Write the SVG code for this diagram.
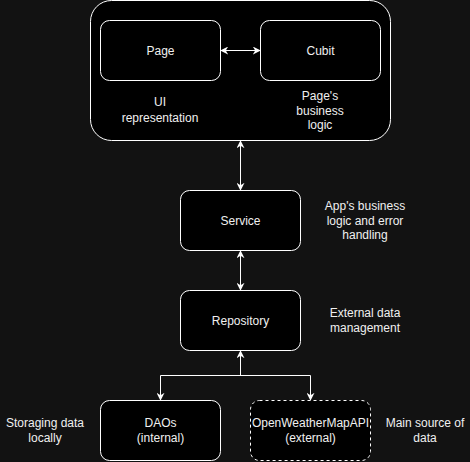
<svg xmlns="http://www.w3.org/2000/svg" width="470" height="462" viewBox="0 0 470 462">
<defs>
<style>
.box{fill:#000;stroke:#fff;stroke-width:1}
.dash{stroke-dasharray:3 3}
.t{font-family:"Liberation Sans",Arial,sans-serif;font-size:12px;fill:#f0f0f0;text-anchor:middle}
.c{fill:none;stroke:#fff;stroke-width:1}
</style>
<marker id="ah" viewBox="0 0 10 10" refX="9" refY="5" markerWidth="8" markerHeight="8" markerUnits="userSpaceOnUse" orient="auto-start-reverse">
<path d="M0,0 L10,5 L0,10 L3,5 Z" fill="#fff"/>
</marker>
</defs>
<rect width="470" height="462" fill="#121212"/>
<g id="container">
<rect class="box" x="90.5" y="0.5" width="300" height="140" rx="21"/>
</g>
<g id="page">
<rect class="box" x="100.5" y="20.5" width="120" height="60" rx="9"/>
<text class="t" x="160.5" y="54.5">Page</text>
</g>
<g id="cubit">
<rect class="box" x="260.5" y="20.5" width="120" height="60" rx="9"/>
<text class="t" x="320.5" y="54.5">Cubit</text>
</g>
<g id="ui-label">
<text class="t" x="160" y="106">UI</text>
<text class="t" x="160" y="122">representation</text>
</g>
<g id="cubit-label">
<text class="t" x="320" y="100">Page's</text>
<text class="t" x="320" y="114.5">business</text>
<text class="t" x="320" y="129">logic</text>
</g>
<g id="service">
<rect class="box" x="180.5" y="190.5" width="120" height="60" rx="9"/>
<text class="t" x="240.5" y="224.5">Service</text>
</g>
<g id="service-label">
<text class="t" x="365" y="210">App's business</text>
<text class="t" x="365" y="224.5">logic and error</text>
<text class="t" x="365" y="239">handling</text>
</g>
<g id="repository">
<rect class="box" x="180.5" y="290.5" width="120" height="60" rx="9"/>
<text class="t" x="240.5" y="324.5">Repository</text>
</g>
<g id="repository-label">
<text class="t" x="365" y="317">External data</text>
<text class="t" x="365" y="332">management</text>
</g>
<g id="daos">
<rect class="box" x="100.5" y="400.5" width="120" height="60" rx="9"/>
<text class="t" x="160.5" y="427">DAOs</text>
<text class="t" x="160.5" y="442">(internal)</text>
</g>
<g id="daos-label">
<text class="t" x="45" y="427">Storaging data</text>
<text class="t" x="45" y="442">locally</text>
</g>
<g id="api">
<rect class="box dash" x="250.5" y="400.5" width="120" height="60" rx="9"/>
<text class="t" x="310.5" y="427">OpenWeatherMapAPI</text>
<text class="t" x="310.5" y="442">(external)</text>
</g>
<g id="api-label">
<text class="t" x="425" y="427">Main source of</text>
<text class="t" x="425" y="442">data</text>
</g>
<g id="connectors">
<line class="c" x1="221" y1="50.5" x2="260" y2="50.5" marker-start="url(#ah)" marker-end="url(#ah)"/>
<line class="c" x1="240.5" y1="141" x2="240.5" y2="190" marker-start="url(#ah)" marker-end="url(#ah)"/>
<line class="c" x1="240.5" y1="251" x2="240.5" y2="290" marker-start="url(#ah)" marker-end="url(#ah)"/>
<line class="c" x1="240.5" y1="375.5" x2="240.5" y2="351" marker-end="url(#ah)"/>
<path class="c" d="M160.5,400 V375.5 H310.5 V400" marker-start="url(#ah)" marker-end="url(#ah)"/>
</g>
</svg>
